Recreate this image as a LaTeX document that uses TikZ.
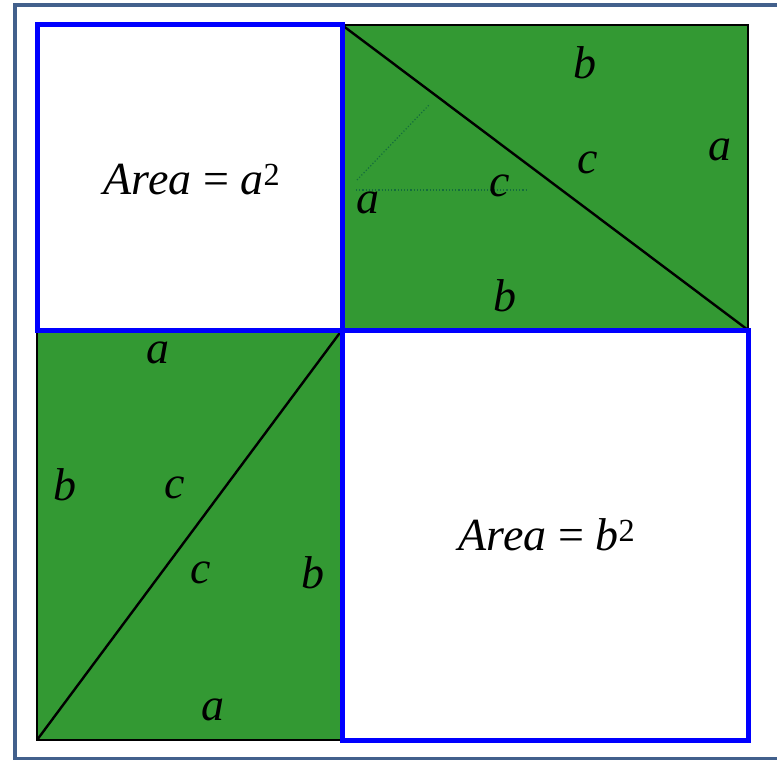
\documentclass[tikz,border=0pt]{standalone}
\usepackage{fontspec}
\setmainfont{Liberation Serif}
\usepackage{xcolor}
\definecolor{leaf}{RGB}{51,153,51}
\definecolor{darkleaf}{RGB}{20,110,60}
\definecolor{framegray}{RGB}{66,96,140}

\begin{document}
\begin{tikzpicture}[x=1pt,y=-1pt,
  lbl/.style={font=\fontsize{46}{46}\selectfont\itshape,inner sep=0pt},
  arealbl/.style={font=\fontsize{46}{46}\selectfont,inner sep=0pt},
  bluesq/.style={draw=blue,line width=5pt},
  piece/.style={fill=leaf,draw=black,line width=1.8pt}]
\useasboundingbox (0,0) rectangle (777,760);
\clip (0,0) rectangle (777,760);
\draw[framegray,line width=4pt] (14.5,5.5) rectangle (800,759);
\coordinate (TL) at (37,25);
\coordinate (TM) at (342,25);
\coordinate (TR) at (748,25);
\coordinate (ML) at (37,330);
\coordinate (C) at (342,330);
\coordinate (MR) at (748,330);
\coordinate (BL) at (37,740);
\coordinate (BM) at (342,740);
\coordinate (BR) at (748,740);
% green pieces
\draw[piece] (TM) rectangle (MR);
\draw[piece] (ML) rectangle (BM);
\draw[line width=2.4pt] (TM)--(MR);
\draw[line width=2.4pt] (BL)--(C);
% faint helper lines
\coordinate (P) at (356,190);
\draw[darkleaf,dotted,line width=1.2pt] (P)--(528,190);
\draw[darkleaf,dotted,line width=1.2pt] (357,180)--(429,105);
% the two squares
\draw[bluesq] (TL) rectangle (C);
\draw[bluesq] (C) rectangle (BR);
\node[arealbl] (areaA) at (192,180) {\textit{Area} = \textit{a}\textsuperscript{2}};
\node[arealbl] (areaB) at (547,535) {\textit{Area} = \textit{b}\textsuperscript{2}};
% upper right labels
\node[lbl] (ub) at (585,63) {b};
\node[lbl] (ua) at (720,150) {a};
\node[lbl] (uc) at (588,163) {c};
\node[lbl] (uc2) at (500,186) {c};
\node[lbl] (ua2) at (368,203) {a};
\node[lbl] (ub2) at (505,296) {b};
% lower left labels
\node[lbl] (la) at (158,353) {a};
\node[lbl] (lb) at (65,485) {b};
\node[lbl] (lc) at (175,488) {c};
\node[lbl] (lc2) at (201,573) {c};
\node[lbl] (lb2) at (313,573) {b};
\node[lbl] (la2) at (213,710) {a};
\end{tikzpicture}
\end{document}
